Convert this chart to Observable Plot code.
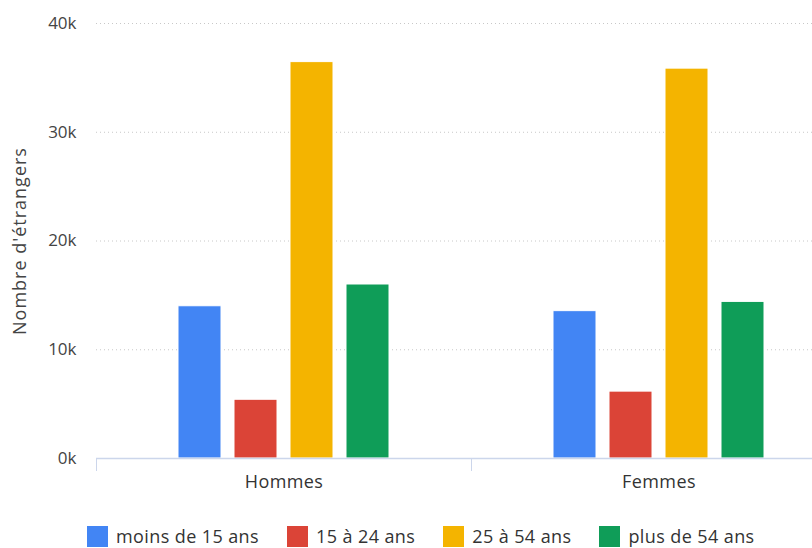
<!DOCTYPE html>
<html>
<head>
<meta charset="utf-8">
<script src="https://cdn.jsdelivr.net/npm/d3@7"></script>
<script src="https://cdn.jsdelivr.net/npm/@observablehq/plot@0.6"></script>
<style>
  html, body { margin: 0; padding: 0; background: #fff; overflow: hidden; width: 812px; height: 548px; }
  #wrap { position: relative; width: 812px; height: 548px; }
  #legend { position: absolute; left: 87px; top: 524px; display: flex; align-items: center;
            font-family: 'Open Sans', sans-serif; font-size: 18px; letter-spacing: 0.4px; color: #333; }
  .item { display: flex; align-items: center; margin-right: 28px; }
  .sw { width: 21px; height: 21px; margin-right: 8px; }
</style>
</head>
<body>
<div id="wrap"><div id="chart"></div><div id="legend"></div></div>
<script>
const categories = ["Hommes", "Femmes"];
const ageGroups = ["moins de 15 ans", "15 à 24 ans", "25 à 54 ans", "plus de 54 ans"];
const hommes = [14000, 5400, 36450, 16000];
const femmes = [13550, 6150, 35850, 14400];
const colors = ["#4285F4", "#DB4437", "#F4B400", "#0F9D58"];
const yTicks = [0, 10000, 20000, 30000, 40000];

const data = [];
ageGroups.forEach((a, i) => {
  data.push({sexe: categories[0], age: a, value: hommes[i]});
  data.push({sexe: categories[1], age: a, value: femmes[i]});
});

const chart = Plot.plot({
  width: 846,
  height: 505,
  marginLeft: 95,
  marginRight: 0,
  marginTop: 23,
  marginBottom: 47,
  style: "max-width:none;font-family:'Open Sans',sans-serif;font-size:16px;color:#333;background:#fff;",
  fx: {domain: categories, padding: 0},
  x: {domain: ageGroups, paddingInner: 0.226, paddingOuter: 1.45, axis: null},
  y: {domain: [0, 40000]},
  color: {domain: ageGroups, range: colors},
  marks: [
    Plot.gridY(yTicks.filter(d => d > 0), {stroke: "#c8c8c8", strokeOpacity: 1, strokeDasharray: "1,3"}),
    Plot.barY(data, {fx: "sexe", x: "age", y: "value", fill: "age", stroke: "white", strokeWidth: 1}),
    Plot.ruleY([0], {stroke: "#ccd6eb", strokeWidth: 1.5}),
    Plot.frame({anchor: "left", stroke: "#ccd6eb", insetTop: 435, insetBottom: -12}),
    Plot.axisY({ticks: yTicks, tickSize: 0, tickPadding: 20, tickFormat: d => d / 1000 + "k",
                label: "Nombre d'étrangers", labelAnchor: "center", labelArrow: "none", labelOffset: 83,
                fill: "#444"}),
    Plot.axisFx({anchor: "bottom", tickSize: 0, tickPadding: 17, label: null, fill: "#333"})
  ]
});
document.getElementById("chart").appendChild(chart);

d3.select(chart).selectAll('g[aria-label="fx-axis tick label"] text')
  .style("font-size", "18px").style("letter-spacing", "0.4px");
d3.select(chart).selectAll('g[aria-label="y-axis tick label"] text')
  .style("font-size", "17px");
d3.select(chart).selectAll('g[aria-label="y-axis label"] text')
  .style("font-size", "18px").style("letter-spacing", "1px");

const legend = document.getElementById("legend");
ageGroups.forEach((a, i) => {
  const it = document.createElement("div");
  it.className = "item";
  const sw = document.createElement("div");
  sw.className = "sw";
  sw.style.background = colors[i];
  const t = document.createElement("span");
  t.textContent = a;
  it.appendChild(sw); it.appendChild(t);
  legend.appendChild(it);
});
</script>
</body>
</html>
